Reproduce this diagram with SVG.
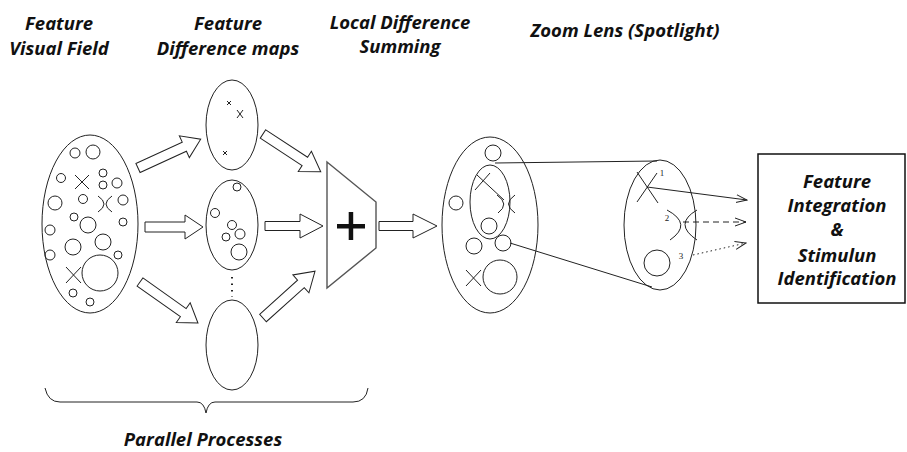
<svg xmlns="http://www.w3.org/2000/svg" width="907" height="452" viewBox="0 0 907 452">
  <defs>
    <style>
      .lbl { font-family: "Open Sans", "Liberation Sans", sans-serif; font-weight: bold; font-style: italic; font-size: 18.5px; fill: #111; text-anchor: middle; }
      .num { font-family: "Liberation Serif", serif; font-size: 9px; fill: #222; text-anchor: middle; }
      .ln { fill: none; stroke: #222; stroke-width: 1; }
      .blk { fill: #fff; stroke: #222; stroke-width: 1; }
      .gry { fill: none; stroke: #555; stroke-width: 1.4; }
    </style>
    <marker id="openHead" viewBox="0 0 12 10" refX="11" refY="5" markerWidth="12" markerHeight="10" markerUnits="userSpaceOnUse" orient="auto">
      <path d="M0,1 L11,5 L0,9" fill="none" stroke="#222" stroke-width="1"/>
    </marker>
  </defs>

  <rect width="907" height="452" fill="#fff"/>

  <!-- column headings -->
  <g id="headings">
    <text class="lbl" x="59" y="30">Feature</text>
    <text class="lbl" x="59" y="55">Visual Field</text>
    <text class="lbl" x="228" y="30">Feature</text>
    <text class="lbl" x="228" y="55">Difference maps</text>
    <text class="lbl" x="400" y="29">Local Difference</text>
    <text class="lbl" x="400" y="53">Summing</text>
    <text class="lbl" x="625" y="37">Zoom Lens (Spotlight)</text>
  </g>

  <!-- visual field with mixed features -->
  <g id="visual-field">
    <ellipse class="ln" cx="90" cy="224" rx="48" ry="89"/>
    <circle class="ln" cx="75" cy="153" r="5"/>
    <circle class="ln" cx="93" cy="152" r="7"/>
    <circle class="ln" cx="61" cy="178" r="4.5"/>
    <path class="ln" d="M75,175 L89,189 M89,175 L75,189"/>
    <circle class="ln" cx="103" cy="173" r="4"/>
    <circle class="ln" cx="103" cy="185" r="4"/>
    <circle class="ln" cx="117" cy="183" r="5"/>
    <circle class="ln" cx="55" cy="203" r="7"/>
    <circle class="ln" cx="83" cy="199" r="4.5"/>
    <path class="ln" d="M98,196 Q110,204 98,212 M112,196 Q100,204 112,212"/>
    <circle class="ln" cx="123" cy="200" r="5"/>
    <circle class="ln" cx="74" cy="217" r="4"/>
    <circle class="ln" cx="88" cy="225" r="8"/>
    <circle class="ln" cx="123" cy="222" r="4"/>
    <circle class="ln" cx="50" cy="230" r="5"/>
    <circle class="ln" cx="103" cy="242" r="8"/>
    <circle class="ln" cx="73" cy="247" r="8"/>
    <circle class="ln" cx="50" cy="255" r="5"/>
    <circle class="ln" cx="118" cy="255" r="4"/>
    <circle class="ln" cx="100" cy="273" r="18"/>
    <path class="ln" d="M66,267 L81,283 M81,267 L66,283"/>
    <circle class="ln" cx="73" cy="293" r="4"/>
    <circle class="ln" cx="90" cy="302" r="4"/>
  </g>

  <!-- feature difference maps -->
  <g id="map-top">
    <ellipse class="ln" cx="232" cy="125" rx="26" ry="45"/>
    <path class="ln" d="M227,101 L231,105 M231,101 L227,105"/>
    <path class="ln" d="M237,110 L243,118 M243,110 L237,118"/>
    <path class="ln" d="M223,151 L227,155 M227,151 L223,155"/>
  </g>
  <g id="map-middle">
    <ellipse class="ln" cx="232" cy="225" rx="26" ry="45"/>
    <circle class="ln" cx="237" cy="187" r="4"/>
    <circle class="ln" cx="215" cy="213" r="4.5"/>
    <circle class="ln" cx="232" cy="225" r="4.5"/>
    <circle class="ln" cx="226" cy="237" r="4"/>
    <circle class="ln" cx="240" cy="234" r="5"/>
    <circle class="ln" cx="239" cy="252" r="8"/>
  </g>
  <g id="map-ellipsis">
    <line x1="232" y1="277" x2="232" y2="297" stroke="#222" stroke-width="2" stroke-dasharray="1.5,5"/>
  </g>
  <g id="map-bottom">
    <ellipse class="ln" cx="232" cy="345" rx="26" ry="45"/>
  </g>

  <!-- summing stage -->
  <g id="summing">
    <polygon class="gry" points="327,162 376,202 376,248 327,288"/>
    <rect x="337" y="224" width="28" height="4.5" fill="#111"/>
    <rect x="348.7" y="212" width="4.5" height="28" fill="#111"/>
  </g>

  <!-- visual field with attentional window -->
  <g id="attended-field">
    <ellipse class="ln" cx="490" cy="225" rx="48" ry="88"/>
    <ellipse class="ln" cx="490" cy="202" rx="20" ry="37"/>
    <circle class="ln" cx="493" cy="153" r="8"/>
    <circle class="ln" cx="456" cy="203" r="7"/>
    <circle class="ln" cx="489" cy="226" r="8"/>
    <circle class="ln" cx="503" cy="243" r="8"/>
    <circle class="ln" cx="474" cy="246" r="8"/>
    <circle class="ln" cx="500" cy="277" r="17"/>
    <path class="ln" d="M466,270 L481,286 M481,270 L466,286"/>
    <path class="ln" d="M477,175 L504,200 M475,190 L490,173"/>
    <path class="ln" d="M497,195 Q510,204 498,213 M515,195 Q502,204 515,213"/>
  </g>

  <!-- magnified spotlight -->
  <g id="zoom-lens">
    <ellipse class="ln" cx="660" cy="225" rx="36" ry="65"/>
    <path class="ln" d="M637,172 L658,203 M657,173 L637,202"/>
    <text class="num" x="662" y="176">1</text>
    <path class="ln" d="M667,210 Q693,224 670,240 M697,210 Q673,224 697,240"/>
    <text class="num" x="667" y="221">2</text>
    <circle class="ln" cx="657" cy="263" r="13"/>
    <text class="num" x="681" y="259">3</text>
  </g>

  <!-- integration box -->
  <g id="integration">
    <rect x="758" y="154" width="147" height="149" fill="#fff" stroke="#111" stroke-width="1.5"/>
    <text class="lbl" x="837" y="188">Feature</text>
    <text class="lbl" x="837" y="212">Integration</text>
    <text class="lbl" x="837" y="236">&amp;</text>
    <text class="lbl" x="837" y="262">Stimulun</text>
    <text class="lbl" x="837" y="285">Identification</text>
  </g>

  <g id="connectors">
    <!-- hollow block arrows: local shape points along +x -->
    <path class="blk" transform="translate(138,168) rotate(-24.7)" d="M0,-5 L51,-5 L51,-12 L69,0 L51,12 L51,5 L0,5 Z"/>
    <path class="blk" transform="translate(145,227)" d="M0,-5 L40,-5 L40,-12 L58,0 L40,12 L40,5 L0,5 Z"/>
    <path class="blk" transform="translate(140,282) rotate(35.3)" d="M0,-5 L53,-5 L53,-12 L71,0 L53,12 L53,5 L0,5 Z"/>
    <path class="blk" transform="translate(263,134) rotate(33.2)" d="M0,-5 L50,-5 L50,-12 L69,0 L50,12 L50,5 L0,5 Z"/>
    <path class="blk" transform="translate(265,226)" d="M0,-4.5 L35,-4.5 L35,-12 L58,0 L35,12 L35,4.5 L0,4.5 Z"/>
    <path class="blk" transform="translate(263,318) rotate(-42)" d="M0,-5 L51,-5 L51,-12 L70,0 L51,12 L51,5 L0,5 Z"/>
    <path class="blk" transform="translate(379,226)" d="M0,-4.5 L34,-4.5 L34,-12 L58,0 L34,12 L34,4.5 L0,4.5 Z"/>
    <!-- spotlight cone -->
    <line class="ln" x1="495" y1="163" x2="657" y2="161"/>
    <line class="ln" x1="510" y1="243" x2="652" y2="287"/>
    <!-- selected features passed on -->
    <line class="ln" x1="647" y1="187" x2="747" y2="200" marker-end="url(#openHead)"/>
    <line class="ln" x1="683" y1="222" x2="746" y2="222" stroke-dasharray="6,4" marker-end="url(#openHead)"/>
    <line class="ln" x1="693" y1="255" x2="746" y2="243" stroke-dasharray="1.5,3" marker-end="url(#openHead)"/>
    <!-- brace grouping the parallel processes -->
    <path class="ln" d="M45,388 Q48,402 60,402 L197,402 Q204,402 206,413 Q208,402 215,402 L353,402 Q366,402 368,388"/>
  </g>

  <text class="lbl" x="203" y="446">Parallel Processes</text>
</svg>
